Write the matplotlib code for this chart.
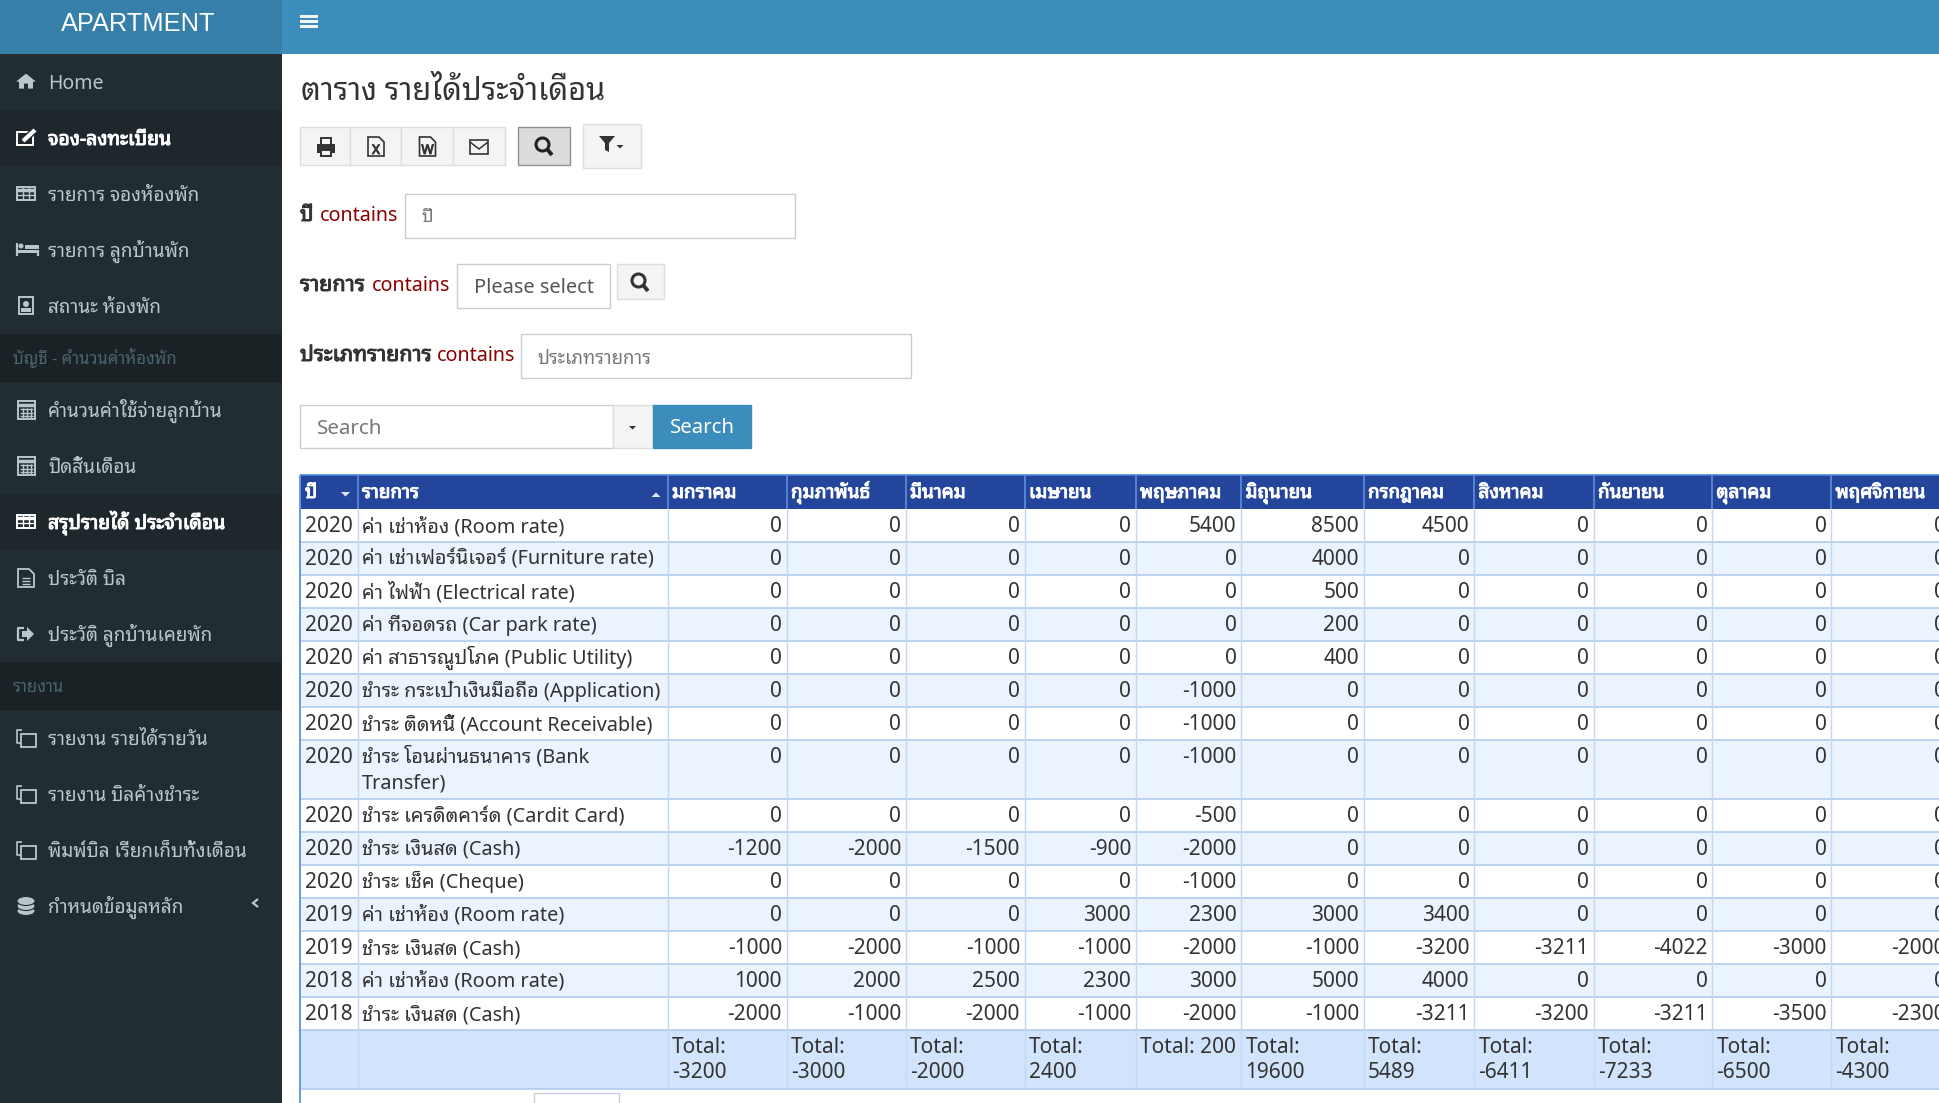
import warnings

import matplotlib
matplotlib.use("Agg")
import matplotlib.patheffects as pe
import matplotlib.pyplot as plt
from matplotlib.patches import Circle, Ellipse, Polygon, Rectangle

warnings.filterwarnings("ignore")
plt.rcParams["font.family"] = ["Noto Sans", "Noto Sans Thai Looped", "Noto Sans Thai UI", "Sarabun", "DejaVu Sans"]

MONTHS = ["มกราคม", "กุมภาพันธ์", "มีนาคม", "เมษายน", "พฤษภาคม", "มิถุนายน",
          "กรกฎาคม", "สิงหาคม", "กันยายน", "ตุลาคม", "พฤศจิกายน"]
YEARS = [2020, 2020, 2020, 2020, 2020, 2020, 2020, 2020, 2020, 2020, 2020, 2019, 2019, 2018, 2018]
ITEMS = [
    "ค่า เช่าห้อง (Room rate)",
    "ค่า เช่าเฟอร์นิเจอร์ (Furniture rate)",
    "ค่า ไฟฟ้า (Electrical rate)",
    "ค่า ที่จอดรถ (Car park rate)",
    "ค่า สาธารณูปโภค (Public Utility)",
    "ชำระ กระเป๋าเงินมือถือ (Application)",
    "ชำระ ติดหนี้ (Account Receivable)",
    "ชำระ โอนผ่านธนาคาร (Bank\nTransfer)",
    "ชำระ เครดิตคาร์ด (Cardit Card)",
    "ชำระ เงินสด (Cash)",
    "ชำระ เช็ค (Cheque)",
    "ค่า เช่าห้อง (Room rate)",
    "ชำระ เงินสด (Cash)",
    "ค่า เช่าห้อง (Room rate)",
    "ชำระ เงินสด (Cash)",
]
VALUES = [
    [0, 0, 0, 0, 5400, 8500, 4500, 0, 0, 0, 0],
    [0, 0, 0, 0, 0, 4000, 0, 0, 0, 0, 0],
    [0, 0, 0, 0, 0, 500, 0, 0, 0, 0, 0],
    [0, 0, 0, 0, 0, 200, 0, 0, 0, 0, 0],
    [0, 0, 0, 0, 0, 400, 0, 0, 0, 0, 0],
    [0, 0, 0, 0, -1000, 0, 0, 0, 0, 0, 0],
    [0, 0, 0, 0, -1000, 0, 0, 0, 0, 0, 0],
    [0, 0, 0, 0, -1000, 0, 0, 0, 0, 0, 0],
    [0, 0, 0, 0, -500, 0, 0, 0, 0, 0, 0],
    [-1200, -2000, -1500, -900, -2000, 0, 0, 0, 0, 0, 0],
    [0, 0, 0, 0, -1000, 0, 0, 0, 0, 0, 0],
    [0, 0, 0, 3000, 2300, 3000, 3400, 0, 0, 0, 0],
    [-1000, -2000, -1000, -1000, -2000, -1000, -3200, -3211, -4022, -3000, -2000],
    [1000, 2000, 2500, 2300, 3000, 5000, 4000, 0, 0, 0, 0],
    [-2000, -1000, -2000, -1000, -2000, -1000, -3211, -3200, -3211, -3500, -2300],
]
TOTALS = [-3200, -3000, -2000, 2400, 200, 19600, 5489, -6411, -7233, -6500, -4300]

COL_X = [300, 357.5, 667.5, 786.5, 905.5, 1024.5, 1135.5, 1241, 1363.5, 1474, 1593.5, 1712, 1831, 1950]
ROW_TOP = 508.5
ROW_H = 33
WRAP_H = 59
FOOT_H = 59.5

SIDE_ITEMS = [
    (81.6, "Home", "home", False),
    (138, "จอง-ลงทะเบียน", "edit", True),
    (194, "รายการ จองห้องพัก", "table", False),
    (250, "รายการ ลูกบ้านพัก", "bed", False),
    (306, "สถานะ ห้องพัก", "badge", False),
    (410, "คำนวนค่าใช้จ่ายลูกบ้าน", "calc", False),
    (466, "ปิดสิ้นเดือน", "calc", False),
    (522, "สรุปรายได้ ประจำเดือน", "table", True),
    (578, "ประวัติ บิล", "file", False),
    (634, "ประวัติ ลูกบ้านเคยพัก", "signout", False),
    (738, "รายงาน รายได้รายวัน", "copy", False),
    (794, "รายงาน บิลค้างชำระ", "copy", False),
    (850, "พิมพ์บิล เรียกเก็บทั้งเดือน", "copy", False),
    (906, "กำหนดข้อมูลหลัก", "db", False),
]
SIDE_HEADERS = [(358, "บัญชี - คำนวนค่าห้องพัก"), (686, "รายงาน")]

SIDE_TXT = "#b8c7ce"
BORDER = "#c9ccd2"
LINE = "#abc9ef"

fig = plt.figure(figsize=(19.39, 11.03), dpi=100, facecolor="white")
ax = fig.add_axes([0, 0, 1, 1])
ax.set_xlim(0, 1939)
ax.set_ylim(1103, 0)
ax.axis("off")


def box(x0, y0, x1, y1, fc="none", ec="none", lw=1.0, z=1):
    ax.add_patch(Rectangle((x0, y0), x1 - x0, y1 - y0, facecolor=fc, edgecolor=ec, linewidth=lw, zorder=z))


def line(xs, ys, color, lw=1.0, z=2):
    ax.plot(xs, ys, color=color, lw=lw, solid_capstyle="butt", zorder=z)


def text(x, y, s, size=14, color="#333333", ha="left", bold=False):
    t = ax.text(x, y, s, fontsize=size, color=color, ha=ha, va="baseline", zorder=5)
    if bold:
        # the looped Thai face has no bold cut, so thicken the outline
        t.set_path_effects([pe.withStroke(linewidth=0.7, foreground=color)])


def caret(x, y, color, up=False, w=4.5, h=4.5):
    tip = y - h if up else y + h
    ax.add_patch(Polygon([(x - w, y), (x + w, y), (x, tip)], facecolor=color, edgecolor="none", zorder=5))


def magnifier(x, y, color):
    ax.add_patch(Circle((x - 1.5, y - 1.5), 6.5, facecolor="none", edgecolor=color, linewidth=2.2, zorder=5))
    line([x + 3, x + 8], [y + 3, y + 9], color, 2.8, 5)


def icon(kind, x, y, c):
    # x, y is the middle of the icon
    if kind == "home":
        ax.add_patch(Polygon([(x - 10, y), (x, y - 8), (x + 10, y), (x + 7, y), (x + 7, y + 7), (x + 2, y + 7), (x + 2, y + 2),
                              (x - 2, y + 2), (x - 2, y + 7), (x - 7, y + 7), (x - 7, y)], facecolor=c, zorder=5))
    elif kind == "edit":
        box(x - 9, y - 6, x + 7, y + 7, ec=c, lw=1.4, z=5)
        line([x - 3, x + 9], [y + 3, y - 8], "#1e282c", 5, 5)
        line([x - 3, x + 9], [y + 3, y - 8], c, 3, 6)
    elif kind == "table":
        box(x - 9, y - 7, x + 9, y + 6, ec=c, lw=1.4, z=5)
        line([x - 9, x + 9], [y - 4, y - 4], c, 2.5, 5)
        line([x - 9, x + 9], [y + 1, y + 1], c, 1, 5)
        for dx in (-3, 3):
            line([x + dx, x + dx], [y - 7, y + 6], c, 1, 5)
    elif kind == "bed":
        line([x - 9, x - 9], [y - 7, y + 6], c, 1.6, 5)
        box(x - 9, y, x + 13, y + 3, fc=c, z=5)
        line([x + 12, x + 12], [y, y + 6], c, 1.6, 5)
        ax.add_patch(Circle((x - 5, y - 4), 2.5, facecolor=c, zorder=5))
        box(x - 1, y - 5, x + 13, y - 1, fc=c, z=5)
    elif kind == "badge":
        box(x - 7, y - 9, x + 7, y + 8, ec=c, lw=1.4, z=5)
        ax.add_patch(Circle((x, y - 2), 3, facecolor=c, zorder=5))
        box(x - 5, y + 2, x + 5, y + 6, fc=c, z=5)
    elif kind == "calc":
        box(x - 8, y - 9, x + 9, y + 9, ec=c, lw=1.4, z=5)
        line([x - 8, x + 9], [y - 5, y - 5], c, 2.5, 5)
        for dy in (-1, 3, 6):
            line([x - 6, x + 7], [y + dy, y + dy], c, 1, 5)
        for dx in (-3, 1, 5):
            line([x + dx, x + dx], [y - 2, y + 8], c, 1, 5)
    elif kind == "file":
        ax.add_patch(Polygon([(x - 8, y - 9), (x + 3, y - 9), (x + 8, y - 4), (x + 8, y + 9), (x - 8, y + 9)],
                             facecolor="none", edgecolor=c, linewidth=1.3, zorder=5))
        for dy in (0, 3, 6):
            line([x - 4, x + 4], [y + dy, y + dy], c, 1, 5)
    elif kind == "signout":
        line([x - 2, x - 8, x - 8, x - 2], [y - 6, y - 6, y + 6, y + 6], c, 1.6, 5)
        ax.add_patch(Polygon([(x - 4, y - 3), (x + 1, y - 3), (x + 1, y - 7), (x + 8, y), (x + 1, y + 7), (x + 1, y + 3), (x - 4, y + 3)],
                             facecolor=c, zorder=5))
    elif kind == "copy":
        line([x - 4, x - 9, x - 9, x - 5], [y - 8, y - 8, y + 5, y + 5], c, 1.2, 5)
        box(x - 5, y - 4, x + 10, y + 9, ec=c, lw=1.3, z=5)
    elif kind == "db":
        for dy in (5, 0, -5):
            ax.add_patch(Ellipse((x, y + dy), 18, 9, facecolor=c, edgecolor="#222d32", linewidth=0.8, zorder=5))


# top bar and sidebar
box(0, 0, 1939, 53.5, fc="#3c8dbc", z=0)
box(0, 0, 282, 53.5, fc="#367fa9", z=1)
box(0, 53.5, 282, 1103, fc="#222d32", z=0)
ax.text(138, 31, "APARTMENT", fontsize=18.3, color="white", ha="center", va="baseline",
        family="Liberation Sans", zorder=5)
for dy in (0, 5, 10):
    box(300, 15 + dy, 318, 17.5 + dy, fc="#f2f6f9", z=5)

for y, label in SIDE_HEADERS:
    box(0, y - 24, 282, y + 24, fc="#1a2226", z=1)
    text(13, y + 6, label, size=12, color="#4b646f")
for y, label, kind, active in SIDE_ITEMS:
    if active:
        box(0, y - 28, 282, y + 28, fc="#1e282c", z=1)
    c = "white" if active else SIDE_TXT
    icon(kind, 26, y, c)
    size = 14 if label == "Home" or active else 13.6
    text(48, y + 7, label, size=size, color=c, bold=active)
ax.add_patch(Polygon([(258, 899), (253, 903), (258, 907)], facecolor="none", edgecolor=SIDE_TXT, linewidth=1.6, closed=False, zorder=5))

# page title
text(301, 100, "ตาราง รายได้ประจำเดือน", size=22.2, color="#333333")

# toolbar
TOOL_X = [300, 350, 401, 453, 505]
for x0, x1 in zip(TOOL_X[:-1], TOOL_X[1:]):
    box(x0, 127, x1, 165, fc="#f4f4f4", ec="#dddddd", lw=1)
IC = "#333333"
box(317, 144, 335, 153, fc=IC, z=5)
box(321, 138, 331, 145, fc="#f4f4f4", ec=IC, lw=1.4, z=5)
box(321, 150, 331, 156, fc="#f4f4f4", ec=IC, lw=1.4, z=5)
for cx, letter in ((376, "X"), (427.5, "W")):
    ax.add_patch(Polygon([(cx - 8, 137), (cx + 3, 137), (cx + 8, 142), (cx + 8, 156), (cx - 8, 156)],
                         facecolor="none", edgecolor=IC, linewidth=1.2, zorder=5))
    text(cx, 154, letter, size=9.5, color=IC, ha="center", bold=True)
box(470, 140, 488, 154, ec=IC, lw=1.2, z=5)
line([470, 479, 488], [142, 149, 142], IC, 1.1, 5)
box(518, 127, 570, 165, fc="#dcdcdc", ec="#8f8f8f", lw=1)
magnifier(544, 146, "#222222")
box(583, 124, 641, 168, fc="#f4f4f4", ec="#dddddd", lw=1)
ax.add_patch(Polygon([(599, 136), (615, 136), (609, 143), (609, 152), (605, 150), (605, 143)], facecolor="#333333", zorder=5))
caret(620, 145, "#333333", w=3.5, h=3.5)

# filter rows
LABEL_C = "#8b0000"
text(300, 221, "ปี", size=15, bold=True)
text(320, 221, "contains", size=14.2, color=LABEL_C)
box(405, 194, 795, 238, fc="white", ec=BORDER, lw=1)
text(421, 222, "ปี", size=13, color="#777777")

text(300, 291, "รายการ", size=15.5, bold=True)
text(372, 291, "contains", size=14.2, color=LABEL_C)
box(457, 264, 609.5, 308, fc="white", ec=BORDER, lw=1)
text(473.5, 293, "Please select", size=14.4, color="#555555")
box(617, 264, 663.5, 299, fc="#f4f4f4", ec="#dddddd", lw=1)
magnifier(640, 282, "#333333")

text(300, 361, "ประเภทรายการ", size=15.4, bold=True)
text(436.5, 361, "contains", size=14.2, color=LABEL_C)
box(521, 334, 911, 378, fc="white", ec=BORDER, lw=1)
text(537.5, 364, "ประเภทรายการ", size=13.3, color="#777777")

box(300, 405, 612.5, 448, fc="white", ec=BORDER, lw=1)
text(316.5, 434, "Search", size=14.8, color="#777777")
box(612.5, 405, 653, 448, fc="#f4f4f4", ec="#dddddd", lw=1)
caret(632.5, 426, "#333333", w=3.5, h=3.5)
box(653, 405, 750.5, 448, fc="#3c8dbc", ec="#3c8dbc", lw=1)
text(669.5, 433, "Search", size=14.7, color="white")

# table head
box(300, 475, COL_X[-1], ROW_TOP, fc="#24459c", ec="none", z=1)
line([300, COL_X[-1]], [475, 475], "#4a86dc", 1.2, 3)
for x in COL_X[1:-1]:
    line([x, x], [475, ROW_TOP], "#5c8fdc", 1.2, 3)
text(COL_X[0] + 5, 498, "ปี", size=13.6, color="white", bold=True)
text(COL_X[1] + 4.5, 498, "รายการ", size=13.6, color="white", bold=True)
caret(345.5, 492, "#dfe6f5")
caret(656, 497, "#dfe6f5", up=True)
for i, name in enumerate(MONTHS):
    text(COL_X[i + 2] + 4.5, 498, name, size=13.6, color="white", bold=True)

# table body
top = ROW_TOP
for r, (year, item, vals) in enumerate(zip(YEARS, ITEMS, VALUES)):
    h = WRAP_H if "\n" in item else ROW_H
    box(300, top, COL_X[-1], top + h, fc="#eaf3fe" if r % 2 else "white", z=1)
    line([300, COL_X[-1]], [top + h, top + h], LINE, 1.1)
    text(COL_X[0] + 5.5, top + 23.5, str(year), size=15)
    parts = item.split("\n")
    text(COL_X[1] + 4.5, top + 23.5, parts[0], size=14.3)
    if len(parts) > 1:
        text(COL_X[1] + 4.5, top + 48.5, parts[1], size=14.3)
    for c, v in enumerate(vals):
        text(COL_X[c + 3] - 4.5, top + 23.5, str(v), size=15, ha="right")
    top += h

# table foot
box(300, top, COL_X[-1], top + FOOT_H, fc="#d2e4fb", z=1)
line([300, COL_X[-1]], [top + FOOT_H, top + FOOT_H], LINE, 1.1)
for c, total in enumerate(TOTALS):
    x = COL_X[c + 2] + 4.5
    if len(str(total)) <= 3:
        text(x, top + 23.5, f"Total: {total}", size=15)
    else:
        text(x, top + 23.5, "Total:", size=15)
        text(x, top + 48.5, str(total), size=15)
for x in COL_X[1:-1]:
    line([x, x], [ROW_TOP, top + FOOT_H], "#c3d9f3", 1.0, 2)
line([300, 300], [475, top + FOOT_H + 14.5], "#5f9ce8", 1.4, 3)

# page size box below the table
box(534, 1093, 619, 1110, fc="white", ec=BORDER, lw=1)

fig.savefig("out.png", dpi=100)
